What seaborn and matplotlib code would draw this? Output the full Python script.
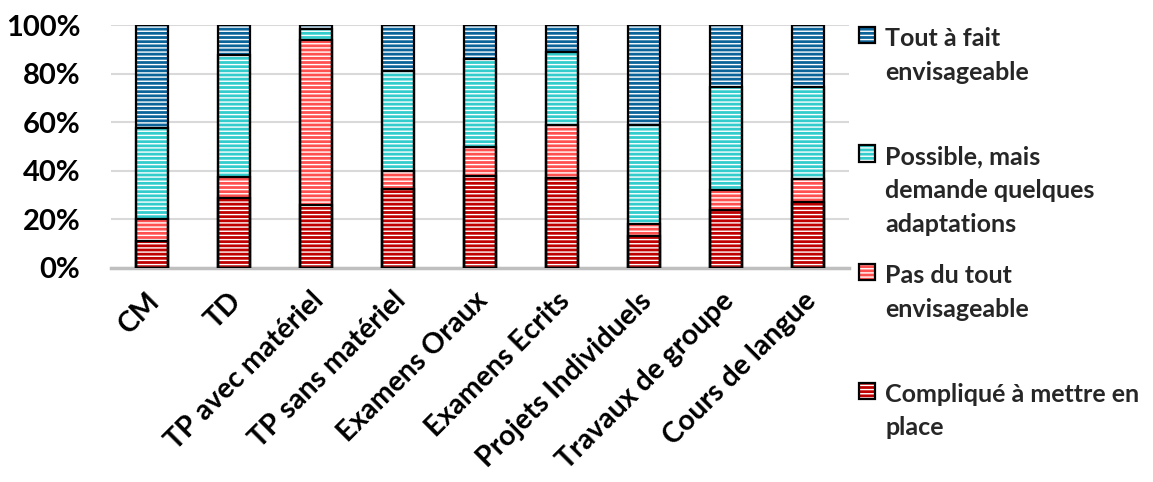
import matplotlib
matplotlib.use("Agg")
import matplotlib.pyplot as plt
import matplotlib.ticker as mticker
import matplotlib.transforms as mtransforms
from matplotlib.patches import Patch
import pandas as pd
import seaborn as sns


# données (pourcentages)
categories = ["CM", "TD", "TP avec matériel", "TP sans matériel", "Examens Oraux",
              "Examens Ecrits", "Projets Individuels", "Travaux de groupe", "Cours de langue"]
complique = [11, 29, 26, 32.5, 38, 37, 13, 24, 27]
pas_du_tout = [9, 8.5, 68, 7.5, 12, 22, 5, 8, 9.5]
possible = [37.5, 50, 4.5, 41, 36, 30, 41, 42.5, 38]
tout_a_fait = [42.5, 12.5, 1.5, 19, 14, 11, 41, 25.5, 25.5]

series_names = ["Compliqué à mettre en place", "Pas du tout envisageable",
                "Possible, mais demande quelques adaptations", "Tout à fait envisageable"]
legend_labels = ["Tout à fait\nenvisageable\n",
                 "Possible, mais\ndemande quelques\nadaptations",
                 "Pas du tout\nenvisageable\n",
                 "Compliqué à mettre en\nplace"]
colors = ["#C00000", "#FF5050", "#33CCCC", "#0A6399"]


def build_frame():
    df = pd.DataFrame({
        "categorie": categories,
        series_names[0]: complique,
        series_names[1]: pas_du_tout,
        series_names[2]: possible,
        series_names[3]: tout_a_fait,
    })
    # cumul pour empiler les barres
    cum = df[series_names].cumsum(axis=1)
    cum.insert(0, "categorie", categories)
    return cum


def plot_stacked(cum):
    sns.set_theme(style="white")
    plt.rcParams["font.family"] = ["Lato", "DejaVu Sans"]
    plt.rcParams["font.weight"] = "bold"
    plt.rcParams["hatch.linewidth"] = 1.0

    fig, ax = plt.subplots(figsize=(11.53, 4.82), dpi=100)
    fig.subplots_adjust(left=0.0963, right=0.7363, top=0.948, bottom=0.444)

    # barres pleines hachurées, de la plus haute à la plus basse
    for name, color in zip(series_names[::-1], colors[::-1]):
        sns.barplot(x=cum["categorie"], y=cum[name], color=color, saturation=1,
                    width=0.4, hatch="----", edgecolor="white", linewidth=0,
                    errorbar=None, ax=ax, zorder=2)
    # contours noirs
    for name in series_names[::-1]:
        sns.barplot(x=cum["categorie"], y=cum[name], color="black", fill=False,
                    width=0.4, linewidth=1.6, errorbar=None, ax=ax, zorder=3)

    ax.set_ylim(0, 100)
    ax.yaxis.set_major_locator(mticker.MultipleLocator(20))
    ax.yaxis.set_major_formatter(mticker.FuncFormatter(lambda v, p: f"{v:.0f}%"))
    ax.grid(axis="y", color="#D9D9D9", linewidth=1.5, zorder=0)
    ax.set_axisbelow(True)
    for s in ["left", "top", "right"]:
        ax.spines[s].set_visible(False)
    ax.spines["bottom"].set_color("#BFBFBF")
    ax.spines["bottom"].set_linewidth(2.5)
    ax.set_xlabel("")
    ax.set_ylabel("")
    ax.tick_params(axis="both", length=0, colors="black")
    ax.tick_params(axis="x", pad=14, labelsize=20.5)
    ax.tick_params(axis="y", pad=22, labelsize=21)
    shift = mtransforms.ScaledTranslation(-4 / 72, 0, fig.dpi_scale_trans)
    for lab in ax.get_xticklabels():
        lab.set_rotation(45)
        lab.set_ha("right")
        lab.set_rotation_mode("anchor")
        lab.set_transform(lab.get_transform() + shift)

    # légende
    handles = []
    for color in colors[::-1]:
        hatched = Patch(facecolor=color, edgecolor="white", linewidth=0, hatch="----")
        outline = Patch(facecolor="none", edgecolor="black", linewidth=1.6)
        handles.append((hatched, outline))
    leg = fig.legend(handles, legend_labels, loc="upper left",
                     bbox_to_anchor=(0.734, 0.97), frameon=False,
                     fontsize=18, handlelength=0.65, handleheight=0.62,
                     handletextpad=0.4, labelspacing=1.13, borderpad=0)
    for t in leg.get_texts():
        t.set_linespacing(1.56)
    for col in leg._legend_handle_box.get_children():
        for row in col.get_children():
            row.align = "top"

    fig.savefig("out.png", dpi=100)


if __name__ == "__main__":
    cum = build_frame()
    plot_stacked(cum)
